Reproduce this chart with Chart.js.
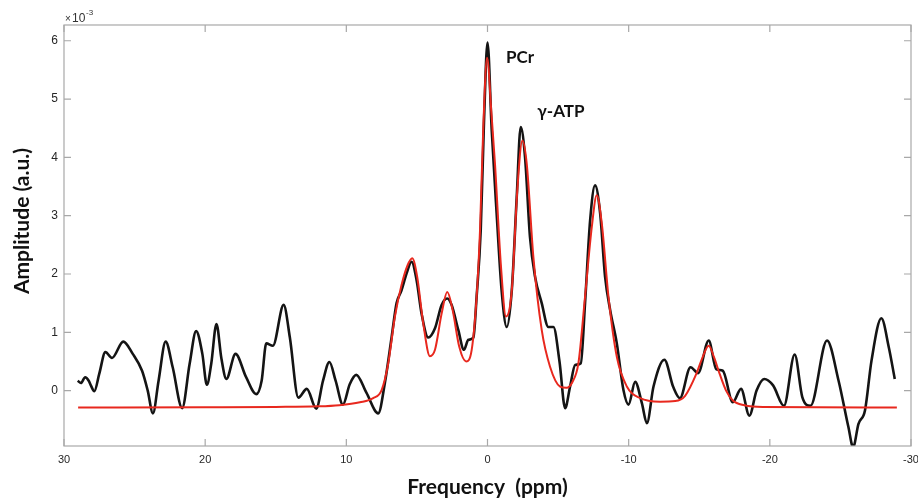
<!DOCTYPE html>
<html>
<head>
<meta charset="utf-8">
<script src="https://cdn.jsdelivr.net/npm/chart.js@4.4.1/dist/chart.umd.min.js"></script>
<style>
  html, body { margin: 0; padding: 0; background: #fff; }
  #wrap { width: 918px; height: 500px; }
</style>
</head>
<body>
<div id="wrap"><canvas id="spectrum"></canvas></div>
<script>
// measured spectrum (black), ppm vs amplitude (x 10^-3)
const blackPpm = [
  29.03, 28.8, 28.5, 28.25, 28.1, 27.85, 27.5, 27.07, 26.6, 25.8, 25.13, 24.47, 24.07, 23.7,
  23.3, 22.8, 22.3, 21.63, 21.1, 20.64, 20.2, 19.88, 19.57, 19.2, 18.85, 18.5, 17.85, 17.1,
  16.38, 16.0, 15.67, 15.2, 14.44, 14.0, 13.4, 12.8, 12.13, 11.65, 11.2, 10.76, 10.24, 9.76,
  9.3, 8.57, 7.74, 7.27, 6.79, 6.44, 6.09, 5.73, 5.38, 5.02, 4.67, 4.2, 3.72, 3.25, 2.85,
  2.54, 2.07, 1.67, 1.36, 1.0, 0.77, 0.48, 0.25, 0.0, -0.3, -0.65, -1.0, -1.36, -1.72, -2.07,
  -2.35, -2.66, -3.01, -3.37, -3.84, -4.31, -4.67, -5.1, -5.5, -5.85, -6.21, -6.61, -6.91,
  -7.27, -7.62, -7.98, -8.33, -8.69, -9.16, -9.63, -9.99, -10.46, -10.94, -11.29, -11.76,
  -12.53, -13.16, -13.63, -14.38, -14.92, -15.67, -16.2, -16.67, -17.38, -17.96, -18.55,
  -19.06, -19.6, -20.23, -21.0, -21.76, -22.3, -22.88, -24.05, -24.87, -25.57, -25.9, -26.28,
  -26.74, -27.2, -27.9, -28.43, -28.85
];
const blackAmp = [
  0.17, 0.13, 0.23, 0.17, 0.09, -0.01, 0.29, 0.66, 0.56, 0.84, 0.63, 0.34, 0.0, -0.39,
  0.17, 0.84, 0.4, -0.30, 0.46, 1.02, 0.63, 0.10, 0.46, 1.14, 0.55, 0.2, 0.63, 0.23,
  -0.06, 0.17, 0.81, 0.77, 1.47, 0.91, -0.12, 0.03, -0.31, 0.17, 0.49, 0.17, -0.24, 0.11,
  0.27, -0.04, -0.39, 0.13, 0.92, 1.5, 1.72, 2.01, 2.21, 1.89, 1.32, 0.91, 1.07, 1.47, 1.58,
  1.47, 1.04, 0.7, 0.87, 0.91, 1.61, 2.75, 4.6, 5.97, 4.46, 3.03, 1.72, 1.09, 1.72, 3.32,
  4.52, 4.0, 2.63, 1.95, 1.5, 1.09, 1.09, 0.5, -0.3, 0.07, 0.44, 0.47, 1.5,
  2.92, 3.52, 3.04, 1.95, 1.38, 0.81, 0.01, -0.24, 0.15, -0.22, -0.56, 0.07,
  0.53, 0.06, -0.13, 0.4, 0.3, 0.86, 0.37, 0.34, -0.2, 0.03, -0.43,
  0.0, 0.2, 0.09, -0.26, 0.62, -0.11, -0.26, 0.86, 0.17, -0.63, -0.97, -0.57,
  -0.34, 0.51, 1.24, 0.74, 0.2
];

// fitted spectrum (red)
const redPpm = [
  29.0, 20.0, 15.0, 12.0, 10.5, 9.04, 8.1, 7.5, 7.03, 6.56, 6.09, 5.66, 5.33, 4.98, 4.55,
  4.08, 3.72, 3.25, 2.85, 2.47, 2.0, 1.52, 1.12, 0.77, 0.53, 0.3, 0.03, -0.28, -0.53, -0.94,
  -1.31, -1.72, -2.11, -2.47, -2.78, -3.25, -3.84, -4.43, -5.14, -5.6, -6.0, -6.44, -6.91,
  -7.39, -7.74, -8.1, -8.57, -9.16, -9.87, -10.82, -12.23, -13.3, -14.0, -14.8, -15.2,
  -15.67, -16.05, -16.44, -16.9, -17.38, -18.2, -19.5, -29.0
];
const redAmp = [
  -0.29, -0.285, -0.28, -0.27, -0.25, -0.2, -0.13, 0.01, 0.47, 1.27, 1.81, 2.15, 2.27, 1.95, 1.15,
  0.59, 0.7, 1.32, 1.69, 1.38, 0.75, 0.5, 0.7, 1.61, 2.75, 4.5, 5.71, 4.75, 3.89, 2.18,
  1.27, 1.72, 3.43, 4.29, 3.89, 2.29, 1.04, 0.41, 0.07, 0.05, 0.14, 0.47, 1.61,
  2.81, 3.35, 2.86, 1.61, 0.58, 0.07, -0.13, -0.19, -0.18, -0.09, 0.29, 0.55,
  0.77, 0.57, 0.29, 0.0, -0.17, -0.25, -0.28, -0.29
];

const xTicks = [30, 20, 10, 0, -10, -20, -30];
const yTicks = [0, 1, 2, 3, 4, 5, 6];

const peakLabels = ["PCr", "γ-ATP"];
const peakLabelPpm = [-2.3, -5.2];
const peakLabelAmp = [5.71, 4.79];

const toPoints = (xs, ys) => xs.map((x, i) => ({ x: x, y: ys[i] }));

// box with inward ticks, y title, exponent and peak names
const decorations = {
  id: "decorations",
  afterDraw(chart) {
    const { ctx, chartArea: a, scales } = chart;
    const xs = scales.x, ys = scales.y;
    const len = 7;
    ctx.save();
    ctx.strokeStyle = "#a8a8a8";
    ctx.lineWidth = 1.2;
    ctx.strokeRect(a.left, a.top, a.right - a.left, a.bottom - a.top);
    ctx.beginPath();
    xTicks.forEach((v) => {
      const px = xs.getPixelForValue(v);
      ctx.moveTo(px, a.bottom); ctx.lineTo(px, a.bottom - len);
      ctx.moveTo(px, a.top); ctx.lineTo(px, a.top + len);
    });
    yTicks.forEach((v) => {
      const py = ys.getPixelForValue(v);
      ctx.moveTo(a.left, py); ctx.lineTo(a.left + len, py);
      ctx.moveTo(a.right, py); ctx.lineTo(a.right - len, py);
    });
    ctx.stroke();

    // exponent
    ctx.fillStyle = "#333";
    ctx.textBaseline = "alphabetic";
    ctx.textAlign = "left";
    ctx.font = "10px 'Liberation Sans', Arial";
    ctx.fillText("×", a.left + 1, a.top - 3);
    ctx.font = "12px 'Liberation Sans', Arial";
    ctx.fillText("10", a.left + 8, a.top - 3);
    ctx.font = "8px 'Liberation Sans', Arial";
    ctx.fillText("-3", a.left + 22, a.top - 10);

    // y title
    ctx.fillStyle = "#111";
    ctx.font = "bold 21px Lato, 'Open Sans', sans-serif";
    ctx.textAlign = "center";
    ctx.textBaseline = "middle";
    ctx.save();
    ctx.translate(22, 221);
    ctx.rotate(-Math.PI / 2);
    ctx.fillText("Amplitude (a.u.)", 0, 0);
    ctx.restore();

    // peak names
    ctx.font = "bold 17px Lato, 'Open Sans', sans-serif";
    peakLabels.forEach((t, i) => {
      ctx.fillText(t, xs.getPixelForValue(peakLabelPpm[i]), ys.getPixelForValue(peakLabelAmp[i]));
    });
    ctx.restore();
  }
};

new Chart(document.getElementById("spectrum"), {
  type: "line",
  data: {
    datasets: [
      {
        label: "Fit",
        data: toPoints(redPpm, redAmp),
        borderColor: "#e8281e",
        borderWidth: 2,
        pointRadius: 0,
        cubicInterpolationMode: "monotone",
        fill: false
      },
      {
        label: "Spectrum",
        data: toPoints(blackPpm, blackAmp),
        borderColor: "#141414",
        borderWidth: 2.6,
        pointRadius: 0,
        cubicInterpolationMode: "monotone",
        fill: false
      }
    ]
  },
  options: {
    responsive: true,
    maintainAspectRatio: false,
    animation: false,
    layout: { padding: { top: 25, right: 7, left: 0, bottom: 0 } },
    plugins: { legend: { display: false }, tooltip: { enabled: false } },
    scales: {
      x: {
        type: "linear",
        reverse: true,
        min: -30,
        max: 30,
        afterBuildTicks: (s) => { s.ticks = xTicks.map((v) => ({ value: v })); },
        afterFit: (s) => { s.height = 54; s.paddingLeft = 0; s.paddingRight = 0; },
        grid: { display: false, drawTicks: false },
        border: { display: false },
        ticks: {
          autoSkip: false,
          maxRotation: 0,
          padding: 7,
          color: "#262626",
          font: { family: "'Liberation Sans Narrow', 'Liberation Sans', Arial", size: 11 },
          callback: (v) => String(v)
        },
        title: {
          display: true,
          text: "Frequency  (ppm)",
          color: "#111",
          font: { family: "Lato, 'Open Sans', sans-serif", size: 21, weight: "bold" },
          padding: { top: 0, bottom: 0 }
        }
      },
      y: {
        type: "linear",
        min: -0.95,
        max: 6.27,
        afterBuildTicks: (s) => { s.ticks = yTicks.map((v) => ({ value: v })); },
        afterFit: (s) => { s.width = 64; s.paddingTop = 0; s.paddingBottom = 0; },
        grid: { display: false, drawTicks: false },
        border: { display: false },
        ticks: {
          padding: 6,
          color: "#262626",
          font: { family: "'Liberation Sans', Arial", size: 12 },
          callback: (v) => String(v)
        }
      }
    }
  },
  plugins: [decorations]
});
</script>
</body>
</html>
